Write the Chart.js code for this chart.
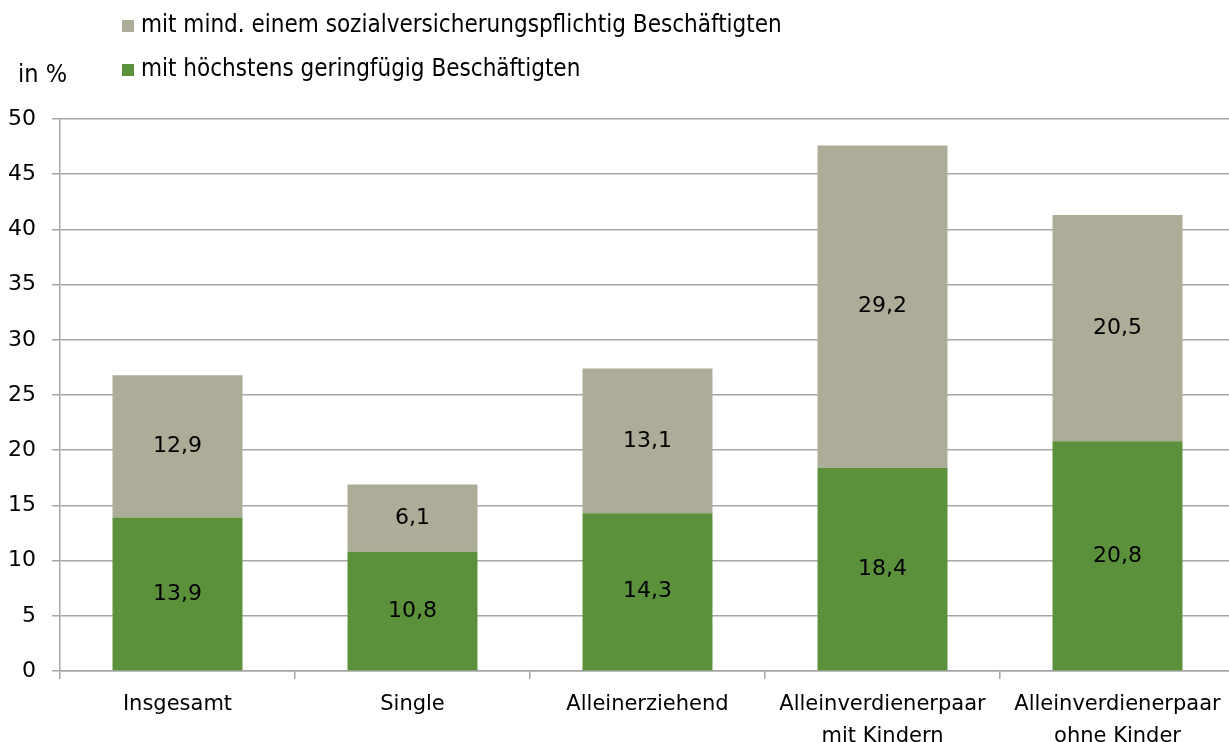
<!DOCTYPE html>
<html>
<head>
<meta charset="utf-8">
<script src="https://cdn.jsdelivr.net/npm/chart.js@4/dist/chart.umd.min.js"></script>
<style>
    html, body { margin: 0; padding: 0; background: #fff; overflow: hidden; }
    #wrap { position: relative; width: 1229px; height: 742px; overflow: hidden; }
    #chart { position: absolute; left: 0; top: 0; }
</style>
</head>
<body>
<div id="wrap"><canvas id="chart" width="1240" height="742"></canvas></div>
<script>
const categories = [
    "Insgesamt",
    "Single",
    "Alleinerziehend",
    ["Alleinverdienerpaar", "mit Kindern"],
    ["Alleinverdienerpaar", "ohne Kinder"]
];
const geringfuegig = [13.9, 10.8, 14.3, 18.4, 20.8];
const sozialversichert = [12.9, 6.1, 13.1, 29.2, 20.5];
const yTicks = [0, 5, 10, 15, 20, 25, 30, 35, 40, 45, 50];

const green = "#5b913b";
const gray = "#acac99";
const font = "'DejaVu Sans', Verdana, sans-serif";
const fontCond = "'DejaVu Sans Condensed', 'DejaVu Sans', sans-serif";

const fmt = v => v.toFixed(1).replace(".", ",");

// labels inside the bar segments
const valueLabels = {
    id: "valueLabels",
    afterDatasetsDraw(chart) {
        const ctx = chart.ctx;
        ctx.save();
        ctx.fillStyle = "#000";
        ctx.font = "22px " + font;
        ctx.textAlign = "center";
        ctx.textBaseline = "middle";
        chart.data.datasets.forEach((ds, i) => {
            const meta = chart.getDatasetMeta(i);
            meta.data.forEach((bar, j) => {
                const y = (bar.y + bar.base) / 2;
                ctx.fillText(fmt(ds.data[j]), bar.x, y);
            });
        });
        ctx.restore();
    }
};

// legend (reversed order) and unit label
const topLegend = {
    id: "topLegend",
    afterDraw(chart) {
        const ctx = chart.ctx;
        ctx.save();
        ctx.font = "24px " + fontCond;
        ctx.textBaseline = "middle";
        const items = chart.data.datasets.slice().reverse();
        items.forEach((ds, k) => {
            const cy = 26 + k * 44;
            ctx.fillStyle = ds.backgroundColor;
            ctx.fillRect(122, cy - 6, 12, 12);
            ctx.fillStyle = "#000";
            ctx.textAlign = "left";
            ctx.fillText(ds.label, 141, cy);
        });
        ctx.font = "25px " + fontCond;
        ctx.fillText("in %", 18, 75);
        ctx.restore();
    }
};

new Chart(document.getElementById("chart"), {
    type: "bar",
    data: {
        labels: categories,
        datasets: [
            {
                label: "mit höchstens geringfügig Beschäftigten",
                data: geringfuegig,
                backgroundColor: green
            },
            {
                label: "mit mind. einem sozialversicherungspflichtig Beschäftigten",
                data: sozialversichert,
                backgroundColor: gray
            }
        ]
    },
    options: {
        responsive: false,
        animation: false,
        events: [],
        layout: { padding: { top: 119, right: 5, left: 0, bottom: 0 } },
        datasets: {
            bar: { categoryPercentage: 1, barPercentage: 0.553 }
        },
        plugins: {
            legend: { display: false },
            tooltip: { enabled: false }
        },
        scales: {
            x: {
                stacked: true,
                afterFit: s => { s.height = 71; },
                grid: {
                    offset: true,
                    drawOnChartArea: false,
                    drawTicks: true,
                    tickLength: 8,
                    color: "#a6a6a6",
                    lineWidth: 1.5
                },
                border: { color: "#a6a6a6", width: 1.5 },
                ticks: {
                    color: "#000",
                    padding: 10,
                    maxRotation: 0,
                    autoSkip: false,
                    font: { family: font, size: 21, lineHeight: 1.5 }
                }
            },
            y: {
                stacked: true,
                min: 0,
                max: 50,
                afterFit: s => { s.width = 60; },
                afterBuildTicks: s => { s.ticks = yTicks.map(v => ({ value: v })); },
                grid: {
                    color: "#a6a6a6",
                    lineWidth: 1.5,
                    tickLength: 8
                },
                border: { color: "#a6a6a6", width: 1.5 },
                ticks: {
                    color: "#000",
                    padding: 16,
                    font: { family: font, size: 22 }
                }
            }
        }
    },
    plugins: [valueLabels, topLegend]
});
</script>
</body>
</html>
